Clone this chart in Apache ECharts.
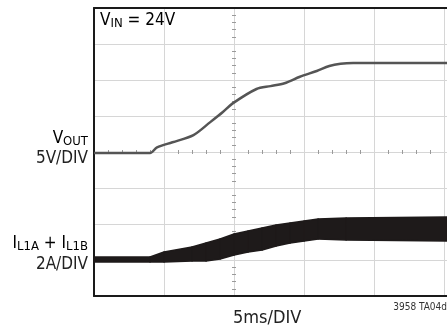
<!DOCTYPE html>
<html><head><meta charset="utf-8">
<script src="https://cdn.jsdelivr.net/npm/echarts@6/dist/echarts.min.js"></script>
<style>html,body{margin:0;padding:0;background:#fff}#c{width:447px;height:330px}</style>
</head><body><div id="c"></div>
<script>
// time axis (ms), 5 ms/div
const timeMax = 25.2;
// VOUT trace (V), 5 V/div
const voutTime = [0, 4.0, 4.5, 5.6, 7.1, 8.3, 9.2, 9.9, 11.6, 12.6, 13.6, 14.7, 15.9, 16.8, 17.6, 18.5, 25.2];
const voutVolts = [0, 0, 0.8, 1.5, 2.5, 4.3, 5.7, 6.9, 8.9, 9.3, 9.7, 10.6, 11.4, 12.1, 12.4, 12.5, 12.5];
// Inductor current envelope (A), 2 A/div
const ilTime = [0, 4.0, 5.0, 7.0, 8.0, 9.0, 10.0, 11.0, 12.0, 13.0, 14.0, 15.0, 16.0, 18.0, 25.2];
const ilUpper = [0.17, 0.17, 0.44, 0.72, 0.94, 1.17, 1.44, 1.61, 1.78, 1.94, 2.06, 2.17, 2.28, 2.33, 2.39];
const ilLower = [-0.11, -0.11, -0.11, -0.06, -0.06, 0.06, 0.28, 0.44, 0.56, 0.78, 0.94, 1.06, 1.17, 1.11, 1.06];
// channel settings
const voutScale = 5, voutZeroDiv = 3.97;
const ilScale = 2, ilZeroDiv = 1.0;

const FONT = "'Liberation Sans Narrow','DejaVu Sans Condensed','Roboto',sans-serif";
const chart = echarts.init(document.getElementById('c'), null, {renderer: 'canvas'});

const voutData = voutTime.map((t, i) => [t, voutZeroDiv + voutVolts[i] / voutScale]);
const bandData = ilTime.map((t, i) => [t, ilZeroDiv + ilLower[i] / ilScale, ilZeroDiv + ilUpper[i] / ilScale]);

const hidden = {axisLabel: {show: false}, axisTick: {show: false}};
const sub = (fs, pad) => ({fontSize: fs, fontFamily: FONT, color: '#222', padding: [pad, 0, 0, 0]});
const big = fs => ({fontSize: fs, fontFamily: FONT, color: '#222'});
const BAND = '#1e1a1a';

chart.setOption({
  animation: false,
  grid: {left: 94, right: 0, top: 8, bottom: 34},
  xAxis: [
    {type: 'value', min: 0, max: timeMax, interval: 5, position: 'bottom', ...hidden,
     axisLine: {show: true, onZero: false, lineStyle: {color: '#1a1a1a', width: 2}},
     splitLine: {show: true, lineStyle: {color: '#d6d6d6', width: 1}}},
    {type: 'value', min: 0, max: timeMax, interval: 5, position: 'top', ...hidden,
     axisLine: {show: true, onZero: false, lineStyle: {color: '#1a1a1a', width: 2}},
     splitLine: {show: false}},
    {type: 'value', min: 0, max: timeMax, interval: 5, position: 'bottom', offset: -146, axisLabel: {show: false},
     axisLine: {show: false, onZero: false}, axisTick: {show: false},
     minorTick: {show: true, splitNumber: 5, length: 4, lineStyle: {color: '#9a9a9a', width: 1}},
     splitLine: {show: false}}
  ],
  yAxis: [
    {type: 'value', min: 0, max: 8, interval: 1, position: 'left', ...hidden,
     axisLine: {show: true, onZero: false, lineStyle: {color: '#1a1a1a', width: 2}},
     splitLine: {show: true, lineStyle: {color: '#d6d6d6', width: 1}}},
    {type: 'value', min: 0, max: 8, interval: 1, position: 'left', offset: -142, axisLabel: {show: false},
     axisLine: {show: false, onZero: false}, axisTick: {show: false},
     minorTick: {show: true, splitNumber: 5, length: 4, lineStyle: {color: '#9a9a9a', width: 1}},
     splitLine: {show: false}}
  ],
  series: [
    {type: 'custom', name: 'IL', data: bandData, z: 3,
     renderItem: function (params, api) {
       const i = params.dataIndex;
       if (i >= bandData.length - 1) return null;
       const d0 = bandData[i], d1 = bandData[i + 1];
       const pts = [
         api.coord([d0[0], d0[1]]), api.coord([d1[0], d1[1]]),
         api.coord([d1[0], d1[2]]), api.coord([d0[0], d0[2]])
       ];
       return {type: 'polygon', shape: {points: pts},
               style: {fill: BAND, stroke: BAND, lineWidth: 1.5, lineJoin: 'round'}};
     }},
    {type: 'line', name: 'VOUT', data: voutData, symbol: 'none', smooth: 0.3,
     lineStyle: {color: '#555555', width: 2.5}, z: 4}
  ],
  graphic: [
    {type: 'text', left: 100, top: 12, z: 10,
     style: {rich: {a: big(17), s: sub(13, 7)}, text: '{a|V}{s|IN}{a| = 24V}'}},
    {type: 'text', right: 447 - 88, top: 130, z: 10,
     style: {rich: {a: big(17), s: sub(13, 7)}, text: '{a|V}{s|OUT}', align: 'right'}},
    {type: 'text', right: 447 - 88, top: 150, z: 10,
     style: {text: '5V/DIV', fontSize: 17, fontFamily: FONT, fill: '#222'}},
    {type: 'text', right: 447 - 88, top: 235, z: 10,
     style: {rich: {a: big(17), s: sub(13, 7)}, text: '{a|I}{s|L1A}{a| + I}{s|L1B}'}},
    {type: 'text', right: 447 - 88, top: 256, z: 10,
     style: {text: '2A/DIV', fontSize: 17, fontFamily: FONT, fill: '#222'}},
    {type: 'text', left: 233, top: 309, z: 10,
     style: {text: '5ms/DIV', fontSize: 18, fontFamily: FONT, fill: '#222'}},
    {type: 'text', right: 0, top: 302, z: 10,
     style: {text: '3958 TA04d', fontSize: 10, fontFamily: FONT, fill: '#333'}}
  ]
});
</script></body></html>
